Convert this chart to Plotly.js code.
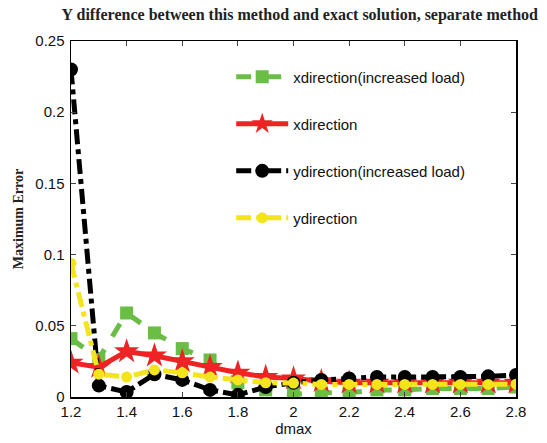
<!DOCTYPE html>
<html><head><meta charset="utf-8">
<script src="https://cdn.plot.ly/plotly-3.0.1.min.js"></script>
<style>body{margin:0;background:#fff}#c{width:547px;height:443px}</style>
</head><body><div id="c"></div>
<script>
const dmax = [1.2,1.3,1.4,1.5,1.6,1.7,1.8,1.9,2.0,2.1,2.2,2.3,2.4,2.5,2.6,2.7,2.8];
const xIncreased = [0.041,0.027,0.059,0.045,0.034,0.026,0.010,0.005,0.002,0.003,0.003,0.005,0.005,0.006,0.006,0.006,0.007];
const xDir = [0.024,0.021,0.032,0.029,0.025,0.021,0.017,0.014,0.013,0.011,0.010,0.010,0.010,0.010,0.010,0.010,0.010];
const yIncreased = [0.230,0.008,0.0035,0.016,0.012,0.005,0.0015,0.007,0.010,0.012,0.013,0.014,0.014,0.014,0.014,0.0145,0.0155];
const yDir = [0.094,0.016,0.014,0.019,0.017,0.014,0.012,0.010,0.0098,0.0088,0.0088,0.0088,0.0088,0.0088,0.0088,0.0088,0.009];
const names = ['xdirection(increased load)','xdirection','ydirection(increased load)','ydirection'];
const xTicks = [1.2,1.4,1.6,1.8,2,2.2,2.4,2.6,2.8];
const xTickText = ['1.2','1.4','1.6','1.8','2','2.2','2.4','2.6','2.8'];
const yTicks = [0,0.05,0.1,0.15,0.2,0.25];
const yTickText = ['0','0.05','0.1','0.15','0.2','0.25'];

const sans = 'Liberation Sans, Arial, sans-serif';
const serif = 'Liberation Serif, Times New Roman, serif';
const traces = [
 {x:dmax,y:xIncreased,name:names[0],legendgroup:'a',mode:'lines+markers',
  line:{color:'#6abd45',width:5,dash:'dash'},marker:{symbol:'square',size:13,color:'#6abd45'}},
 {x:dmax,y:xDir,name:names[1],legendgroup:'b',mode:'lines+markers',
  line:{color:'#ee2424',width:5,dash:'solid'},marker:{symbol:'star',size:19,color:'#ee2424'}},
 {x:dmax,y:yIncreased,name:names[2],legendgroup:'c',mode:'lines+markers',
  line:{color:'#000000',width:5,dash:'dashdot'},marker:{symbol:'circle',size:14,color:'#000000'}},
 {x:dmax,y:yDir,name:names[3],legendgroup:'d',mode:'lines+markers',
  line:{color:'#f4e41c',width:5,dash:'dashdot'},marker:{symbol:'circle',size:11,color:'#f4e41c'}}
];
const layout = {
 width:547,height:443,
 margin:{l:71,r:31,t:41,b:46},
 paper_bgcolor:'#fff',plot_bgcolor:'#fff',
 showlegend:true,
 title:{text:'<b>Y difference between this method and exact solution, separate method</b>',
   font:{family:serif,size:16,color:'#222'},
   x:0.548,xanchor:'center',y:0.968,yanchor:'middle'},
 xaxis:{range:[1.2,2.8],tickvals:xTicks,ticktext:xTickText,ticks:'inside',ticklen:5,
   showline:true,linecolor:'#000',linewidth:1.5,mirror:'ticks',showgrid:false,zeroline:false,
   tickfont:{family:sans,size:15,color:'#111'},
   title:{text:'dmax',font:{family:sans,size:15,color:'#111'},standoff:2}},
 yaxis:{range:[0,0.25],tickvals:yTicks,ticktext:yTickText,ticks:'inside',ticklen:5,
   showline:true,linecolor:'#000',linewidth:1.5,mirror:'ticks',showgrid:false,zeroline:false,
   tickfont:{family:sans,size:15,color:'#111'},ticklabelstandoff:2,
   title:{text:'<b>Maximum Error</b>',font:{family:serif,size:14,color:'#222'},standoff:8}},
 legend:{x:0.36,y:0.945,xanchor:'left',yanchor:'top',bgcolor:'rgba(0,0,0,0)',
   traceorder:'grouped',tracegroupgap:24.5,itemwidth:52,
   font:{family:sans,size:15,color:'#111'}}
};
Plotly.newPlot('c',traces,layout,{displayModeBar:false,staticPlot:true});
</script></body></html>
